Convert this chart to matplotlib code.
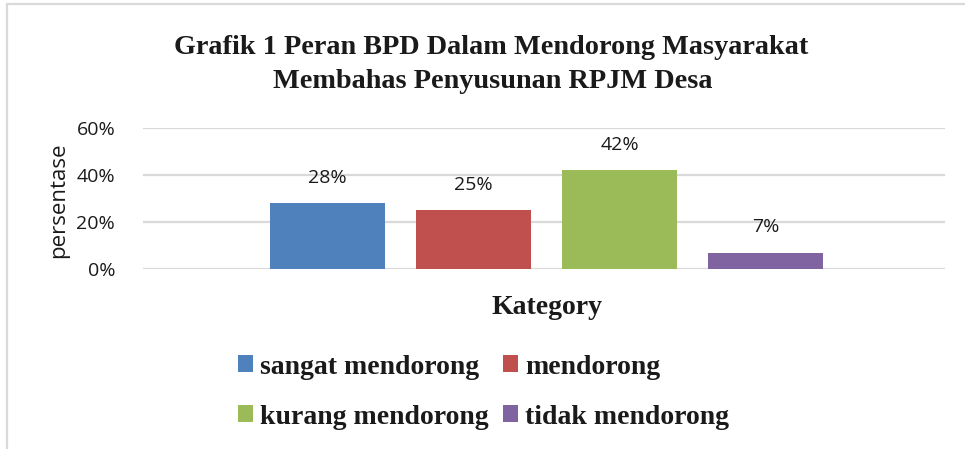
import matplotlib
matplotlib.use("Agg")
import matplotlib.pyplot as plt
from matplotlib.patches import Rectangle, Patch

categories = ["sangat mendorong", "mendorong", "kurang mendorong", "tidak mendorong"]
values = [0.28, 0.25, 0.42, 0.07]
colors = ["#4f81bd", "#c0504d", "#9bbb59", "#8064a2"]
yticks = [0.0, 0.2, 0.4, 0.6]
ytick_labels = ["0%", "20%", "40%", "60%"]
title_lines = ["Grafik 1 Peran BPD Dalam Mendorong Masyarakat", "Membahas Penyusunan RPJM Desa"]

W, H = 965, 449
fig = plt.figure(figsize=(W / 100, H / 100), dpi=100)

serif = "Liberation Serif"
sans = "Open Sans"
tc = "#1a1a1a"

# outer chart border (only top and left visible)
fig.patches.append(Rectangle((6.5 / W, -0.1), 1.2, 1.1 - 4.5 / H, transform=fig.transFigure,
                             fill=False, edgecolor="#d9d9d9", lw=1.6, zorder=0))

ax = fig.add_axes([143 / W, (H - 269) / H, (945 - 143) / W, (269 - 128) / H])
x = list(range(len(values)))
ax.bar(x, values, width=115 / 146, color=colors, zorder=3)
ax.set_xlim(-1.264, -1.264 + 802 / 146)
ax.set_ylim(0, 0.6)
ax.set_yticks(yticks)
ax.set_yticklabels(ytick_labels, fontfamily=sans, fontsize=14, color=tc)
ax.set_xticks([])
ax.tick_params(axis="y", length=0, pad=20)
for s in ax.spines.values():
    s.set_visible(False)
ax.grid(axis="y", color="#d9d9d9", lw=1.6, zorder=0)
ax.set_axisbelow(True)

for xi, v in zip(x, values):
    ax.annotate(f"{round(v * 100)}%", (xi, v), xytext=(0, 18.5), textcoords="offset points",
                ha="center", va="center", fontfamily=sans, fontsize=14, color=tc)

fig.text(59 / W, 1 - 200 / H, "persentase", rotation=90, ha="center", va="center",
         fontfamily=sans, fontsize=16, color=tc)

fig.text(491 / W, 1 - 47 / H, title_lines[0], ha="center", va="center", fontfamily=serif,
         fontweight="bold", fontsize=20.3, color=tc)
fig.text(493 / W, 1 - 82 / H, title_lines[1], ha="center", va="center", fontfamily=serif,
         fontweight="bold", fontsize=20.3, color=tc)

fig.text(547 / W, 1 - 307 / H, "Kategory", ha="center", va="center", fontfamily=serif,
         fontweight="bold", fontsize=20, color=tc)

handles = [Patch(facecolor=c, label=l) for c, l in zip(colors, categories)]
order = [0, 2, 1, 3]
fig.legend([handles[i] for i in order], [categories[i] for i in order], ncol=2,
           loc="center", bbox_to_anchor=(483.5 / W, 1 - 392 / H), frameon=False,
           prop={"family": serif, "weight": "bold", "size": 20},
           handlelength=0.54, handleheight=0.54, handletextpad=0.25,
           columnspacing=0.55, labelspacing=0.9, labelcolor=tc)

fig.savefig("out.png", dpi=100)
